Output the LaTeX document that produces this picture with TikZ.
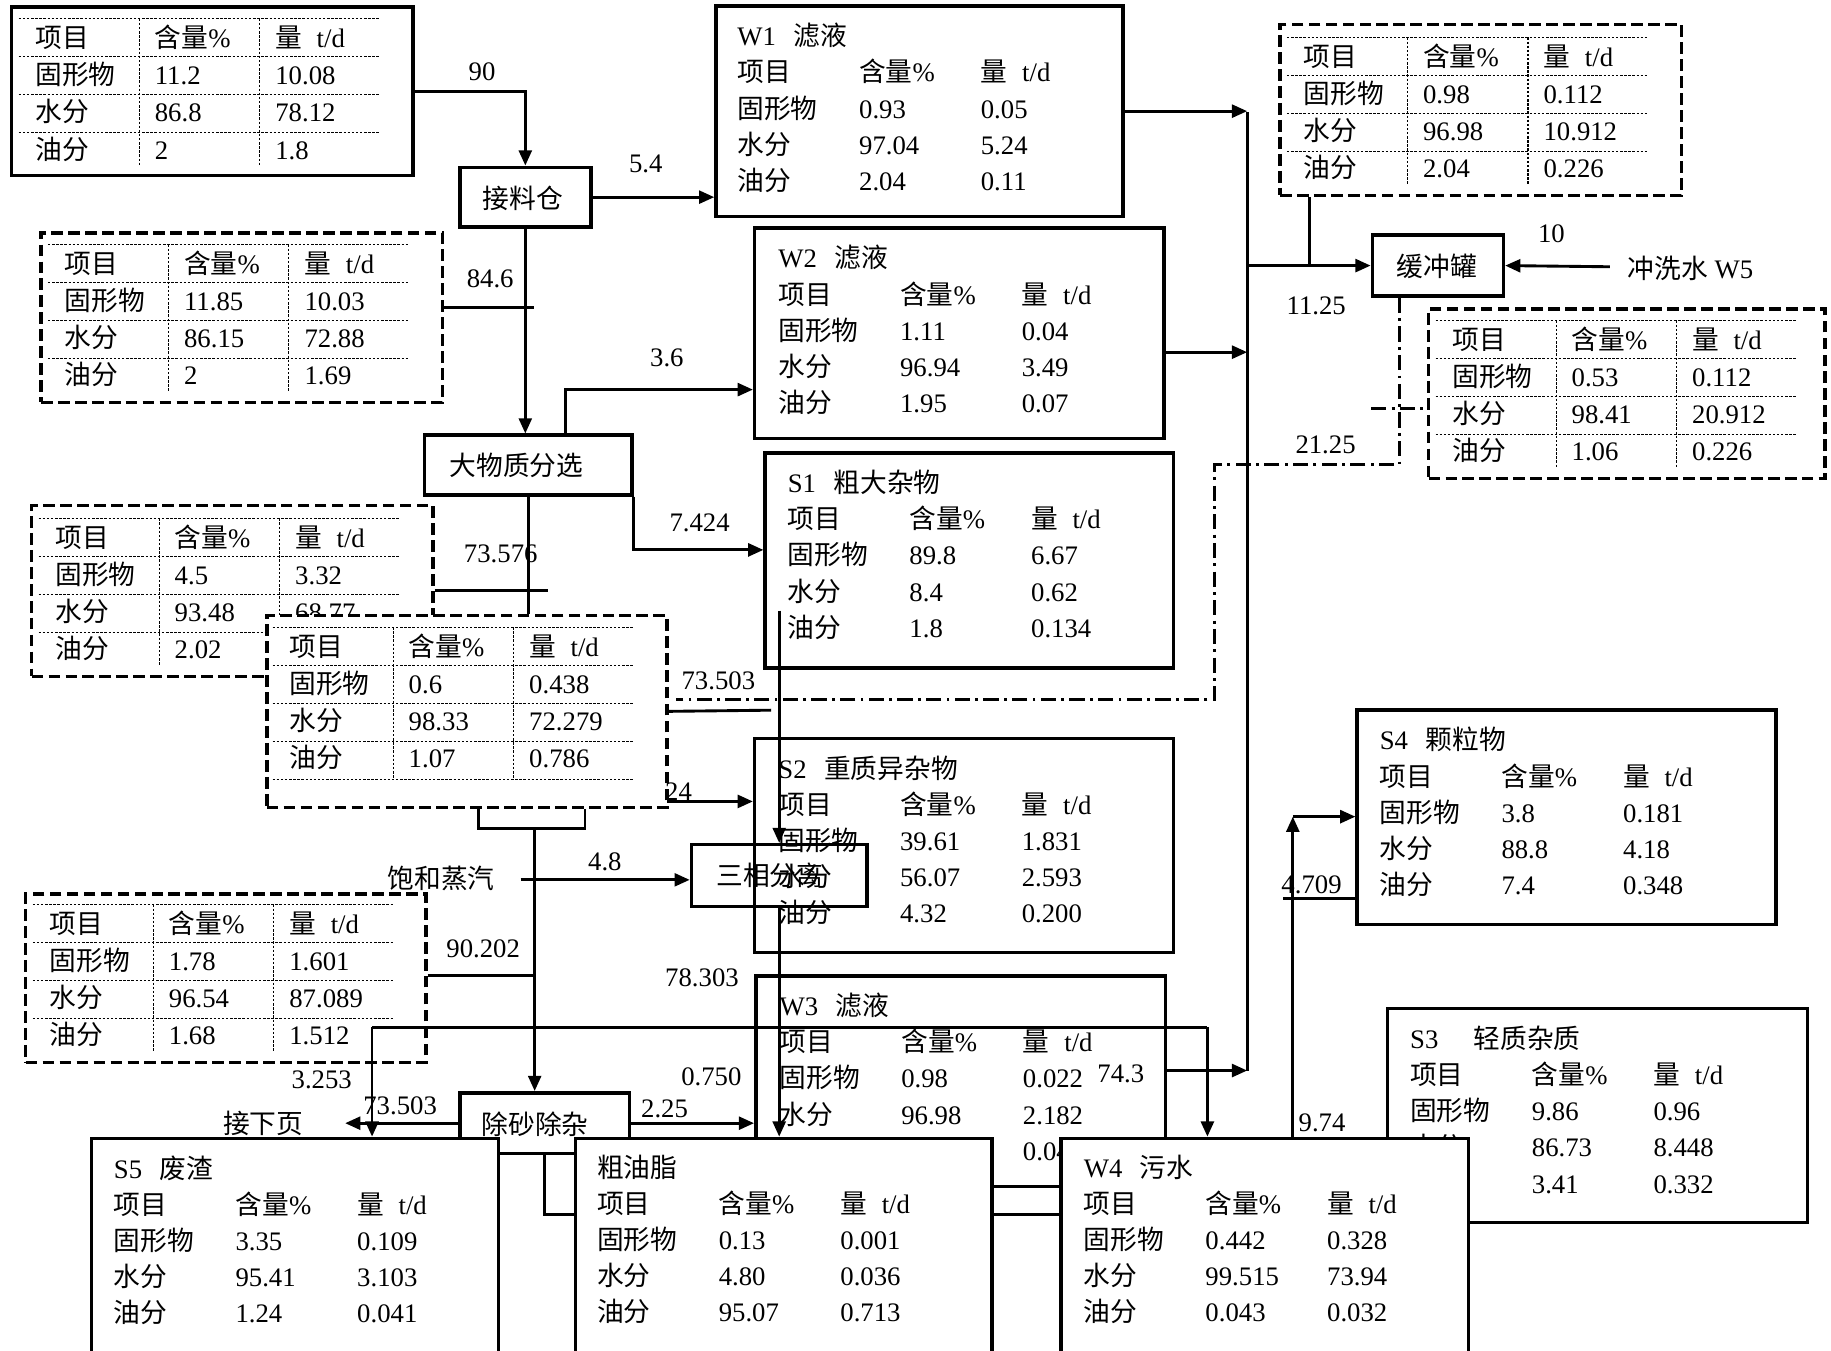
\documentclass[tikz,border=0pt]{standalone}
\usepackage{fontspec}
\setmainfont{Liberation Serif}
\newfontfamily\cjk{Noto Sans CJK SC}
\usetikzlibrary{positioning, calc, arrows.meta, fit}

\newcommand\zh[1]{{\cjk #1}}
\newcommand\stream[6]{%
  \zh{项目} & \zh{含量}\% & \zh{量}\hspace{2.5mm}t/d\\
  \zh{固形物} & #1 & #2\\
  \zh{水分} & #3 & #4\\
  \zh{油分} & #5 & #6}
\newcommand\tblgrid[4]{%
  \foreach \k in {#4} \draw[gridline] (#1,{#2+32.5*\k}) -- ++(308,0);
  \draw[gridline] (#1+103,#2) -- ++(0,#3) (#1+206,#2) -- ++(0,#3);}
\newcommand\comptable[4]{%
  \tblgrid{#2}{#3}{125}{0,1,2,3}
  \node[gridtext] (#1) at (#2+14,#3+25)
    {\begin{tabular}[t]{@{}p{20.4mm}@{}p{20.6mm}@{}l@{}}#4\end{tabular}};}
\newcommand\boxtext[4]{%
  \node[datatext] (#1) at (#2,#3)
    {\begin{tabular}[t]{@{}p{20.8mm}@{}p{20.8mm}@{}l@{}}#4\end{tabular}};}

\begin{document}
\begin{tikzpicture}[x=0.2mm, y=-0.2mm, % 像素坐标, y 向下
  flow/.style={line width=1.4pt, -{Triangle[length=2.6mm,width=2.2mm]}},
  pipe/.style={line width=1.4pt},
  recycle/.style={line width=1.2pt, dash pattern=on 2.6mm off 0.9mm on 0.5mm off 0.9mm},
  procbox/.style={draw, line width=1.7pt, inner sep=0pt},
  proctext/.style={inner sep=0pt, font=\fontsize{13pt}{16pt}\selectfont\cjk},
  databox/.style={draw, line width=1.7pt, inner sep=0pt},
  tblbox/.style={draw, line width=1.7pt, inner sep=0pt, dash pattern=on 2mm off 0.9mm},
  cover/.style={fill=white},
  gridline/.style={line width=0.5pt, dash pattern=on 1.2pt off 0.8pt},
  num/.style={inner sep=0pt, font=\fontsize{13pt}{16pt}\selectfont},
  datatext/.style={anchor=base west, inner sep=0pt, font=\fontsize{13pt}{17.6pt}\selectfont},
  gridtext/.style={anchor=base west, inner sep=0pt, font=\fontsize{13pt}{18pt}\selectfont}]

\useasboundingbox (0,0) rectangle (1565,1154);
\clip (0,0) rectangle (1565,1154);

% 组成表
\node[databox, fit={(10,6) (353,150)}] (t0) {};
\comptable{t0v}{16}{16}{\stream{11.2}{10.08}{86.8}{78.12}{2}{1.8}}
\node[tblbox, fit={(35,199) (378,344)}] (t1) {};
\comptable{t1v}{41}{209}{\stream{11.85}{10.03}{86.15}{72.88}{2}{1.69}}
\node[tblbox, fit={(27,432) (370,578)}] (t3) {};
\comptable{t3v}{33}{443}{\stream{4.5}{3.32}{93.48}{68.77}{2.02}{}}
\node[tblbox, cover, fit={(228,526) (570,690)}] (t2) {};
\comptable{t2v}{233}{536}{\stream{0.6}{0.438}{98.33}{72.279}{1.07}{0.786}}
\tblgrid{233}{536}{130}{4}
\node[tblbox, fit={(22,764) (364,908)}] (t4) {};
\comptable{t4v}{28}{773}{\stream{1.78}{1.601}{96.54}{87.089}{1.68}{1.512}}
\node[tblbox, fit={(1094,21) (1437,167)}] (t7) {};
\comptable{t7v}{1100}{32}{\stream{0.98}{0.112}{96.98}{10.912}{2.04}{0.226}}
\node[tblbox, fit={(1221,264) (1560,409)}] (t8) {};
\comptable{t8v}{1227}{274}{\stream{0.53}{0.112}{98.41}{20.912}{1.06}{0.226}}

% 物料框
\node[databox, fit={(612,5) (960,185)}] (w1) {};
\boxtext{w1v}{630}{39}{\multicolumn{3}{@{}l@{}}{W1\hspace{3mm}\zh{滤液}}\\ \stream{0.93}{0.05}{97.04}{5.24}{2.04}{0.11}}
\node[databox, fit={(645,195) (995,375)}] (w2) {};
\boxtext{w2v}{665}{229}{\multicolumn{3}{@{}l@{}}{W2\hspace{3mm}\zh{滤液}}\\ \stream{1.11}{0.04}{96.94}{3.49}{1.95}{0.07}}
\node[databox, fit={(654,387) (1003,571)}] (s1) {};
\boxtext{s1v}{673}{421}{\multicolumn{3}{@{}l@{}}{S1\hspace{3mm}\zh{粗大杂物}}\\ \stream{89.8}{6.67}{8.4}{0.62}{1.8}{0.134}}
\node[databox, fit={(645,631) (1003,814)}] (s2) {};
\boxtext{s2v}{665}{665}{\multicolumn{3}{@{}l@{}}{S2\hspace{3mm}\zh{重质异杂物}}\\ \stream{39.61}{1.831}{56.07}{2.593}{4.32}{0.200}}
\node[databox, fit={(1160,607) (1518,790)}] (s4) {};
\boxtext{s4v}{1179}{641}{\multicolumn{3}{@{}l@{}}{S4\hspace{3mm}\zh{颗粒物}}\\ \stream{3.8}{0.181}{88.8}{4.18}{7.4}{0.348}}
\node[databox, fit={(1186,862) (1545,1045)}] (s3) {};
\boxtext{s3v}{1205}{896}{\multicolumn{3}{@{}l@{}}{S3\hspace{6mm}\zh{轻质杂质}}\\ \stream{9.86}{0.96}{86.73}{8.448}{3.41}{0.332}}
\node[databox, fit={(646,834) (996,1014)}] (w3) {};
\boxtext{w3v}{666}{868}{\multicolumn{3}{@{}l@{}}{W3\hspace{3mm}\zh{滤液}}\\ \stream{0.98}{0.022}{96.98}{2.182}{2.04}{0.046}}

% 工序
\node[procbox, fit={(393,143) (505,194)}] (bin) {};
\node[proctext] (binl) at ($(bin.center)+(-2,1)$) {接料仓};
\node[procbox, fit={(363,372) (540,423)}] (sort) {};
\node[proctext] (sortl) at ($(sort.center)+(-10,0)$) {大物质分选};
\node[procbox, fit={(1173,201) (1285,253)}] (buffer) {};
\node[proctext] (bufferl) at ($(buffer.center)+(-1,1)$) {缓冲罐};
\node[procbox, fit={(591,722) (741,775)}] (sep3) {};
\node[proctext] (sep3l) at ($(sep3.center)+(-8,0)$) {三相分离};
\node[procbox, cover, fit={(393,934) (538,986)}] (desand) {};
\node[proctext] (desandl) at ($(desand.center)+(-8,1)$) {除砂除杂};

\coordinate (dsout) at (467,1038);
\draw[pipe] (desand.south) |- (dsout -| 907,0);

\node[databox, cover, fit={(78,973) (426,1200)}] (s5) {};
\boxtext{s5v}{97}{1007}{\multicolumn{3}{@{}l@{}}{S5\hspace{3mm}\zh{废渣}}\\ \stream{3.35}{0.109}{95.41}{3.103}{1.24}{0.041}}
\node[databox, cover, fit={(492,973) (848,1200)}] (oil) {};
\boxtext{oilv}{510}{1006}{\multicolumn{3}{@{}l@{}}{\zh{粗油脂}}\\ \stream{0.13}{0.001}{4.80}{0.036}{95.07}{0.713}}
\node[databox, cover, fit={(907,973) (1255,1200)}] (w4) {};
\boxtext{w4v}{926}{1006}{\multicolumn{3}{@{}l@{}}{W4\hspace{3mm}\zh{污水}}\\ \stream{0.442}{0.328}{99.515}{73.94}{0.043}{0.032}}

% 连线
\draw[flow] (t0.east) -| (bin.north);
\draw[flow] (bin.east) -- (bin.east -| w1.west);
\draw[flow] (bin.south) -- (bin.south |- sort.north);
\coordinate (t1tap) at (456,263);
\draw[pipe] (t1.east |- t1tap) -- (t1tap);
\coordinate (w2in) at (483,333);
\draw[flow] (sort.north -| w2in) -- (w2in) -- (w2in -| w2.west);
\draw[flow] (sort.south east) |- ($(s1.west)+(0,-9)$);
\draw[pipe] (sort.south) -- (sort.south |- t2.north);
\coordinate (t3tap) at (468,505);
\draw[pipe] (t3.east |- t3tap) -- (t3tap);
\coordinate (t2out) at (659,607);
\draw[pipe] (t2.east) -- (t2out);
\coordinate (s1tap) at (666,522);
\draw[flow] (s1tap) -- (sep3.north);
\coordinate (t2lo) at (570,685);
\draw[flow] (t2lo) -- (t2lo -| s2.west);
\node[num, anchor=east] (steam) at (423,751) {\zh{饱和蒸汽}};
\coordinate (stin) at (445,752);
\draw[flow] (stin) -- (stin -| sep3.west);
\coordinate (brl) at (409,708);
\coordinate (brr) at (500,708);
\coordinate (brm) at (457,708);
\draw[pipe] (brl |- t2.south) -- (brl) -- (brr) -- (brr |- t2.south);
\draw[flow] (brm) -- (brm |- desand.north);
\coordinate (t4tap) at (456,834);
\draw[pipe] (t4.east |- t4tap) -- (t4tap);
\coordinate (ra) at (318,878);
\coordinate (rb) at (1032,878);
\draw[pipe] (ra) -- (rb);
\draw[flow] (ra) -- (ra |- s5.north);
\draw[flow] (rb) -- (rb |- w4.north);
\coordinate (nextpg) at (295,960);
\draw[flow] (desand.west) -- (nextpg);
\node[num] (jxy) at (225,960) {\zh{接下页}};
\draw[flow] (desand.east) -- (desand.east -| w3.west);
\draw[flow] (sep3.south) -- (sep3.south |- oil.north);

\coordinate (bustop) at (1066,96);
\coordinate (busbot) at (1066,915);
\draw[pipe] (bustop) -- (busbot);
\draw[flow] (w1.east) -- (w1.east -| bustop);
\coordinate (w2out) at (995,301);
\draw[flow] (w2out) -- (w2out -| bustop);
\draw[flow] (w3.east |- busbot) -- (busbot);
\draw[flow] (buffer.west -| bustop) -- (buffer.west);
\coordinate (t7tap) at (1119,227);
\draw[pipe] (t7tap |- t7.south) -- (t7tap);
\node[num, anchor=west] (w5) at (1391,229) {\zh{冲洗水} W5};
\coordinate (w5in) at (1376,228);
\draw[flow] (w5in) -- (buffer.east);

\coordinate (rcA) at (1196,397);
\coordinate (rcB) at (1038,397);
\coordinate (rcC) at (1038,598);
\coordinate (rcD) at (578,598);
\draw[recycle] (buffer.south -| rcA) -- (rcA) -- (rcB) -- (rcC) -- (rcD);
\coordinate (t8tap) at (1172,349);
\draw[recycle] (t8tap) -- (t8tap -| t8.west);

\coordinate (s4up) at (1105,698);
\draw[flow] (w4.north -| s4up) -- (s4up);
\draw[flow] (s4up) -- (s4up -| s4.west);
\coordinate (s4tap) at (1097,768);
\draw[pipe] (s4tap) -- (s4tap -| s4.west);

% 流量
\node[num] (q1) at (412,61) {90};
\node[num] (q2) at (552,140) {5.4};
\node[num] (q3) at (419,238) {84.6};
\node[num] (q4) at (570,306) {3.6};
\node[num] (q5) at (598,447) {7.424};
\node[num] (q6) at (428,473) {73.576};
\node[num] (q7) at (614,582) {73.503};
\node[num] (q8) at (580,677) {24};
\node[num] (q9) at (517,737) {4.8};
\node[num] (q10) at (413,811) {90.202};
\node[num] (q11) at (600,836) {78.303};
\node[num] (q12) at (275,923) {3.253};
\node[num] (q13) at (608,920) {0.750};
\node[num] (q14) at (568,948) {2.25};
\node[num] (q15) at (342,945) {73.503};
\node[num] (q16) at (958,918) {74.3};
\node[num] (q17) at (1130,960) {9.74};
\node[num] (q18) at (1121,756) {4.709};
\node[num] (q19) at (1125,261) {11.25};
\node[num] (q20) at (1133,380) {21.25};
\node[num] (q21) at (1326,200) {10};

\end{tikzpicture}
\end{document}
